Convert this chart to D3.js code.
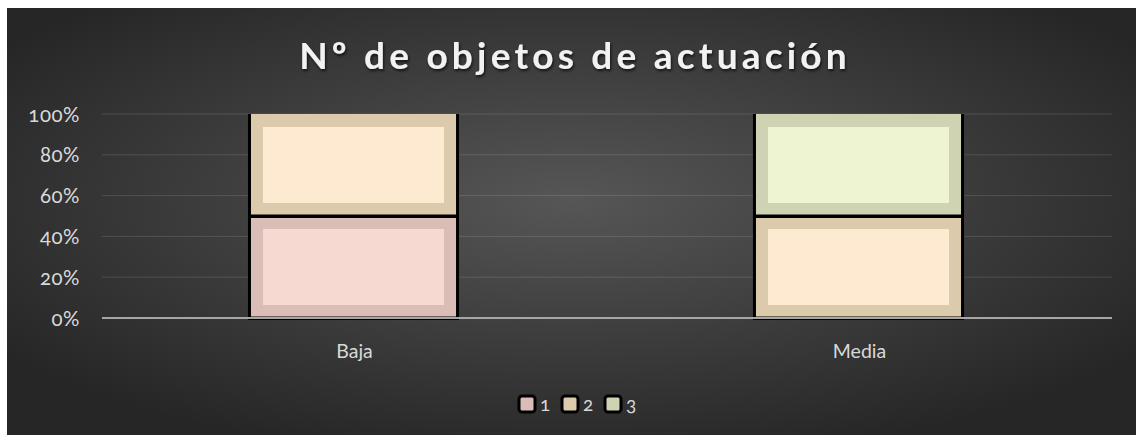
<!DOCTYPE html>
<html lang="es">
<head>
<meta charset="UTF-8">
<title>Nº de objetos de actuación</title>
<script src="https://d3js.org/d3.v7.min.js"></script>
<style>
  body { margin: 0; background: #fff; }
  text { font-family: Lato, "Open Sans", sans-serif; font-variant-numeric: oldstyle-nums; }
</style>
</head>
<body>
<div id="figure" style="width:1136px;height:435px"></div>
<script>
// data
const categories = ["Baja", "Media"];
const seriesNames = ["1", "2", "3"];
const series1 = [1, 0];
const series2 = [1, 1];
const series3 = [0, 1];
const yTicks = [0, 0.2, 0.4, 0.6, 0.8, 1];

const outerColors = ["#d9bdb6", "#dccaad", "#cfd3b4"];
const innerColors = ["#f6dad2", "#feead0", "#eef3d2"];

let w = 1136, h = 435;
let margin = {left: 102, right: 24, top: 114, bottom: 117};

let svg = d3.select("#figure").append("svg")
    .attr("width", w)
    .attr("height", h);

let defs = svg.append("defs");
let grad = defs.append("radialGradient")
    .attr("id", "bg")
    .attr("cx", "50%").attr("cy", "45%").attr("r", "62%");
grad.append("stop").attr("offset", "0%").attr("stop-color", "#565656");
grad.append("stop").attr("offset", "100%").attr("stop-color", "#262626");

let shadow = defs.append("filter").attr("id", "tshadow")
    .attr("x", "-10%").attr("y", "-30%").attr("width", "120%").attr("height", "160%");
shadow.append("feDropShadow")
    .attr("dx", 1).attr("dy", 2).attr("stdDeviation", 1.5)
    .attr("flood-color", "#000").attr("flood-opacity", 0.7);

svg.append("rect")
    .attr("x", 7).attr("y", 8)
    .attr("width", w - 7).attr("height", h - 8)
    .attr("fill", "url(#bg)");

// title
svg.append("text")
    .attr("x", 575).attr("y", 69)
    .attr("text-anchor", "middle")
    .attr("fill", "#f2f2f2")
    .attr("font-size", 37)
    .attr("font-weight", "bold")
    .attr("letter-spacing", 4.2)
    .attr("filter", "url(#tshadow)")
    .text("Nº de objetos de actuación");

let x = d3.scaleBand()
    .domain(categories)
    .range([margin.left, w - margin.right])
    .paddingInner(0.59)
    .paddingOuter(0.295);

let y = d3.scaleLinear()
    .domain([0, 1])
    .range([h - margin.bottom, margin.top]);

// gridlines
svg.append("g")
    .selectAll("line")
    .data(yTicks.slice(1))
    .join("line")
    .attr("x1", margin.left).attr("x2", w - margin.right)
    .attr("y1", d => y(d)).attr("y2", d => y(d))
    .attr("stroke", "#ffffff").attr("stroke-opacity", 0.13)
    .attr("stroke-width", 1);

// y axis labels
let yAxis = d3.axisLeft(y).tickValues(yTicks).tickFormat(d3.format(".0%")).tickSize(0).tickPadding(0);
let yg = svg.append("g")
    .attr("transform", `translate(80,0)`)
    .call(yAxis);
yg.select(".domain").remove();
yg.selectAll("text")
    .attr("fill", "#d9d9d9")
    .attr("font-size", 20.5)
    .attr("font-family", "Lato, 'Open Sans', sans-serif")
    .attr("letter-spacing", 0.5)
    .attr("dy", "0.35em");

// stacked bars
let stackData = categories.map((c, i) => ({cat: c, s0: series1[i], s1: series2[i], s2: series3[i]}));
let stack = d3.stack().keys(["s0", "s1", "s2"]).offset(d3.stackOffsetExpand);
let layers = stack(stackData);

let bars = svg.append("g");
layers.forEach((layer, k) => {
    layer.forEach(seg => {
        if (seg[1] - seg[0] <= 0) return;
        let bx = x(seg.data.cat);
        let bw = x.bandwidth();
        let yTop = y(seg[1]);
        let yBot = y(seg[0]);
        let g = bars.append("g");
        // dark shadow outline
        g.append("rect")
            .attr("x", bx - 3).attr("y", yTop)
            .attr("width", bw + 4).attr("height", yBot - yTop + 2)
            .attr("fill", "#000");
        g.append("rect")
            .attr("x", bx).attr("y", yTop + (seg[1] >= 1 ? 0 : 1.5))
            .attr("width", bw - 2).attr("height", yBot - yTop - (seg[1] >= 1 ? 1.5 : 3))
            .attr("fill", outerColors[k]);
        g.append("rect")
            .attr("x", bx + 12).attr("y", yTop + 13)
            .attr("width", bw - 26).attr("height", yBot - yTop - 26)
            .attr("fill", innerColors[k]);
    });
});

// x axis line
svg.append("line")
    .attr("x1", margin.left).attr("x2", w - margin.right)
    .attr("y1", y(0)).attr("y2", y(0))
    .attr("stroke", "#a6a6a6").attr("stroke-width", 2);

// category labels
let xAxis = d3.axisBottom(x).tickSize(0).tickPadding(0);
let xg = svg.append("g")
    .attr("transform", `translate(0,${y(0) + 40})`)
    .call(xAxis);
xg.select(".domain").remove();
xg.selectAll("text")
    .attr("fill", "#d9d9d9")
    .attr("font-size", 19.5)
    .attr("font-family", "Lato, 'Open Sans', sans-serif")
    .attr("dy", "0");

// legend
let legendX = [519, 562, 605];
let legend = svg.append("g");
seriesNames.forEach((name, i) => {
    let lg = legend.append("g").attr("transform", `translate(${legendX[i]},396)`);
    lg.append("rect")
        .attr("x", 0).attr("y", 0)
        .attr("width", 16).attr("height", 16)
        .attr("rx", 3)
        .attr("fill", outerColors[i])
        .attr("stroke", "#000").attr("stroke-width", 3);
    lg.append("text")
        .attr("x", 21).attr("y", 15)
        .attr("fill", "#d9d9d9")
        .attr("font-size", 19)
        .text(name);
});
</script>
</body>
</html>
